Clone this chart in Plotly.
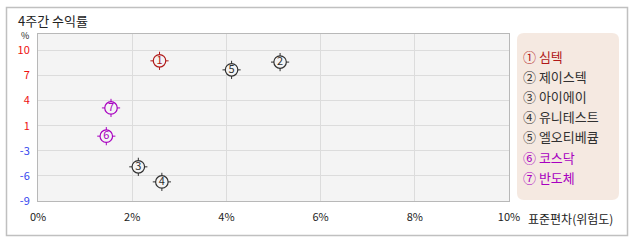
import plotly.graph_objects as go

labels = ["①", "②", "③", "④", "⑤", "⑥", "⑦"]
names = ["심텍", "제이스텍", "아이에이", "유니테스트", "엘오티베큠", "코스닥", "반도체"]
risk = [2.58, 5.14, 2.13, 2.63, 4.11, 1.45, 1.55]
ret = [8.68, 8.52, -4.69, -6.59, 7.54, -0.82, 2.74]
colors = ["#b01818", "#303030", "#303030", "#303030", "#303030", "#a800c0", "#a800c0"]
x_ticks = [0, 2, 4, 6, 8, 10]
y_min, y_max = -9, 10
n_int = 6

FONT = "Noto Sans CJK KR"
step = (y_max - y_min) / n_int
y_vals = [y_min + k * step for k in range(n_int + 1)]
y_text = []
for v in y_vals:
    r = int(round(v + 1e-9)) if v >= 0 else -int(round(-v))
    c = "#ee1111" if v >= 0 else "#3344ee"
    y_text.append(f"<span style='color:{c}'>{r}</span>")

fig = go.Figure()
fig.add_trace(go.Scatter(
    x=risk, y=ret, mode="markers",
    marker=dict(symbol="cross-thin", size=13, line=dict(color=colors, width=1)),
    hoverinfo="skip", showlegend=False, cliponaxis=False))
fig.add_trace(go.Scatter(
    x=risk, y=ret, mode="markers+text",
    text=[str(i + 1) for i in range(len(labels))],
    textposition="middle center",
    textfont=dict(family=FONT, size=11, color=colors),
    marker=dict(symbol="circle", size=12.5, color="#f4f4f4", line=dict(color=colors, width=1.2)),
    showlegend=False, cliponaxis=False))

fig.update_layout(
    width=638, height=242,
    margin=dict(l=38, r=129, t=34, b=41),
    paper_bgcolor="white", plot_bgcolor="#f4f4f4",
    font=dict(family=FONT, size=11, color="#222"),
    xaxis=dict(range=[0, 10], tickvals=x_ticks, ticktext=[f"{v}%" for v in x_ticks],
               showgrid=True, gridcolor="#dcdcdc", zeroline=False,
               showline=True, linecolor="#b8b8b8", mirror=True, ticks="",
               tickfont=dict(size=11, color="#222"), ticklabelstandoff=6),
    yaxis=dict(range=[y_min, y_max + 16.3 / 25 * step], tickvals=y_vals, ticktext=y_text,
               showgrid=True, gridcolor="#dcdcdc", zeroline=False,
               showline=True, linecolor="#b8b8b8", mirror=True, ticks="",
               tickfont=dict(size=11), ticklabelstandoff=5),
)


def px(x):
    return (x - 38) / 471


def py(y):
    return (201 - y) / 167


# outer frame
fig.add_shape(type="rect", xref="x domain", yref="y domain",
              x0=px(6.5), x1=px(627.5), y0=py(235.5), y1=py(7.5),
              line=dict(color="#c0c0c0", width=1.5), layer="below")
# legend box (rounded)
lx0, lx1, ly0, ly1, rr = 517, 619, 33, 200, 7
path = (f"M {lx0 + rr},{ly0} L {lx1 - rr},{ly0} Q {lx1},{ly0} {lx1},{ly0 + rr} "
        f"L {lx1},{ly1 - rr} Q {lx1},{ly1} {lx1 - rr},{ly1} L {lx0 + rr},{ly1} "
        f"Q {lx0},{ly1} {lx0},{ly1 - rr} L {lx0},{ly0 + rr} Q {lx0},{ly0} {lx0 + rr},{ly0} Z")


def conv(p):
    out = []
    for tok in p.split(" "):
        if "," in tok:
            a, b = tok.split(",")
            out.append(f"{px(float(a)):.5f},{py(float(b)):.5f}")
        else:
            out.append(tok)
    return " ".join(out)


fig.add_shape(type="path", xref="x domain", yref="y domain", path=conv(path),
              fillcolor="#f5e9e1", line=dict(width=0), layer="below")

for i, (lab, nm, c) in enumerate(zip(labels, names, colors)):
    fig.add_annotation(xref="x domain", yref="y domain", x=px(521), y=py(56 + i * 20.2),
                       xanchor="left", yanchor="middle", showarrow=False,
                       text=f"{lab} {nm}", font=dict(family=FONT, size=13, color=c))

fig.add_annotation(xref="x domain", yref="y domain", x=px(16), y=py(20),
                   xanchor="left", yanchor="middle", showarrow=False,
                   text="4주간 수익률", font=dict(family=FONT, size=13, color="#222"))
fig.add_annotation(xref="x domain", yref="y domain", x=px(25), y=py(35),
                   xanchor="center", yanchor="middle", showarrow=False,
                   text="%", font=dict(family=FONT, size=9, color="#222"))
fig.add_annotation(xref="x domain", yref="y domain", x=px(526), y=py(218),
                   xanchor="left", yanchor="middle", showarrow=False,
                   text="표준편차(위험도)", font=dict(family=FONT, size=12, color="#222"))

fig.write_html("out.html")
